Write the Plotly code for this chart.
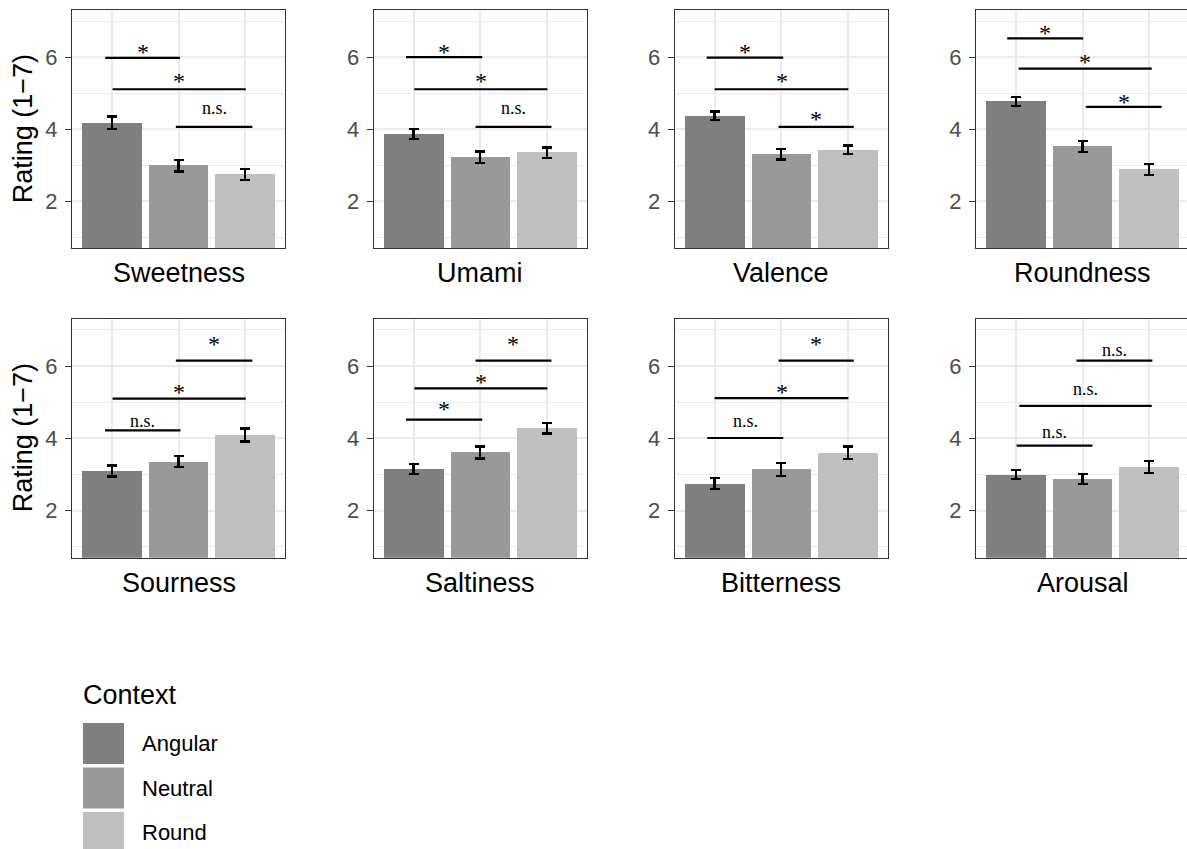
import plotly.graph_objects as go

# ---------------- data ----------------
attributes = ["Sweetness", "Umami", "Valence", "Roundness",
              "Sourness", "Saltiness", "Bitterness", "Arousal"]
contexts = ["Angular", "Neutral", "Round"]
context_colors = ["#7f7f7f", "#999999", "#bfbfbf"]

angular_mean = [4.18, 3.87, 4.37, 4.77, 3.10, 3.15, 2.75, 3.00]
neutral_mean = [2.99, 3.22, 3.31, 3.52, 3.36, 3.61, 3.14, 2.87]
round_mean = [2.75, 3.35, 3.43, 2.88, 4.09, 4.28, 3.60, 3.21]
angular_se = [0.17, 0.14, 0.12, 0.13, 0.15, 0.14, 0.15, 0.12]
neutral_se = [0.16, 0.16, 0.15, 0.15, 0.16, 0.165, 0.18, 0.14]
round_se = [0.15, 0.15, 0.12, 0.15, 0.18, 0.15, 0.17, 0.17]

y_ticks = [2, 4, 6]
y_minor = [1, 3, 5, 7]

# significance brackets: panel index, x start, x end, y, label, label y
bracket_panel = [0, 0, 0, 1, 1, 1, 2, 2, 2, 3, 3, 3,
                 4, 4, 4, 5, 5, 5, 6, 6, 6, 7, 7, 7]
bracket_x0 = [0.90, 1.01, 1.96, 0.885, 1.01, 1.93, 0.88, 1.00, 1.96, 0.87, 1.04, 2.05,
              0.896, 1.01, 1.96, 0.885, 1.01, 1.93, 0.89, 1.00, 1.96, 1.01, 1.05, 1.91]
bracket_x1 = [2.02, 3.01, 3.11, 2.03, 3.01, 3.07, 2.03, 3.01, 3.09, 2.01, 3.04, 3.19,
              2.03, 3.01, 3.11, 2.03, 3.01, 3.07, 2.03, 3.01, 3.09, 2.15, 3.04, 3.05]
bracket_y = [5.98, 5.11, 4.07, 6.00, 5.11, 4.07, 5.99, 5.11, 4.07, 6.52, 5.68, 4.62,
             4.22, 5.10, 6.15, 4.52, 5.38, 6.15, 4.01, 5.11, 6.15, 3.80, 4.90, 6.15]
bracket_label = ["*", "*", "n.s.", "*", "*", "n.s.", "*", "*", "*", "*", "*", "*",
                 "n.s.", "*", "*", "*", "*", "*", "n.s.", "*", "*", "n.s.", "n.s.", "n.s."]
bracket_label_y = [6.29, 5.48, 4.55, 6.29, 5.48, 4.55, 6.29, 5.48, 4.42, 6.80, 6.01, 4.90,
                   4.44, 5.41, 6.74, 4.94, 5.69, 6.75, 4.45, 5.41, 6.75, 4.16, 5.34, 6.42]

# ---------------- layout geometry (pixels) ----------------
W, H = 1187, 849
col_left = [72, 373.7, 674.7, 976]
panel_w = 213
row_top = [10.3, 319]
row_bot = [248.3, 557.7]
x_range = [0.4, 3.6]
y_range = [0.7, 7.3]
px_per_x = panel_w / (x_range[1] - x_range[0])

SANS = "Liberation Sans, Arial, Helvetica, sans-serif"
SERIF = "Liberation Serif, Times New Roman, serif"

fig = go.Figure()
means = [angular_mean, neutral_mean, round_mean]
ses = [angular_se, neutral_se, round_se]

annotations = []
shapes = []
for i, attr in enumerate(attributes):
    r, c = divmod(i, 4)
    n = i + 1
    xa = "x" if n == 1 else f"x{n}"
    ya = "y" if n == 1 else f"y{n}"
    left = col_left[c]
    right = min(left + panel_w, W)
    xr = [x_range[0], x_range[0] + (right - left) / px_per_x]

    fig.add_trace(go.Bar(
        x=[1, 2, 3],
        y=[m[i] for m in means],
        width=0.9,
        marker=dict(color=context_colors, line=dict(width=0)),
        error_y=dict(type="data", array=[s[i] for s in ses], color="black",
                     thickness=2.4, width=5),
        xaxis=xa, yaxis=ya, showlegend=False, hoverinfo="skip",
    ))

    for k in range(len(bracket_panel)):
        if bracket_panel[k] != i:
            continue
        fig.add_trace(go.Scatter(
            x=[bracket_x0[k], bracket_x1[k]], y=[bracket_y[k], bracket_y[k]],
            mode="lines", line=dict(color="black", width=2.2),
            xaxis=xa, yaxis=ya, showlegend=False, hoverinfo="skip",
        ))
        is_star = bracket_label[k] == "*"
        annotations.append(dict(
            x=(bracket_x0[k] + bracket_x1[k]) / 2, y=bracket_label_y[k],
            xref=xa, yref=ya, text=bracket_label[k], showarrow=False,
            xanchor="center", yanchor="middle",
            yshift=-5 if is_star else 1,
            font=dict(family=SERIF, size=24 if is_star else 18, color="black"),
        ))

    xkey = "xaxis" if n == 1 else f"xaxis{n}"
    ykey = "yaxis" if n == 1 else f"yaxis{n}"
    fig.update_layout(**{
        xkey: dict(
            domain=[left / W, right / W], range=xr, anchor=ya,
            tickvals=[1, 2, 3], showticklabels=False, ticks="",
            showgrid=True, gridcolor="#ebebeb", gridwidth=1.5,
            showline=True, linecolor="#333333", linewidth=1.3, mirror=True,
            zeroline=False, fixedrange=True,
        ),
        ykey: dict(
            domain=[1 - row_bot[r] / H, 1 - row_top[r] / H], range=y_range, anchor=xa,
            tickvals=y_ticks, ticks="outside", ticklen=6, tickwidth=1.3,
            tickcolor="#333333", ticklabelstandoff=3,
            tickfont=dict(family=SANS, size=22, color="#4d4d4d"),
            showgrid=True, gridcolor="#ebebeb", gridwidth=1.5,
            minor=dict(tickvals=y_minor, showgrid=True, gridcolor="#ebebeb",
                       gridwidth=0.8, ticks=""),
            showline=True, linecolor="#333333", linewidth=1.3,
            mirror=(c < 3), zeroline=False, fixedrange=True,
        ),
    })

    # facet label below panel
    annotations.append(dict(
        x=(left + panel_w / 2) / W, y=1 - (row_bot[r] + 25) / H,
        xref="paper", yref="paper", text=attr, showarrow=False,
        xanchor="center", yanchor="middle",
        font=dict(family=SANS, size=27, color="black"),
    ))

# y-axis titles
for r in range(2):
    annotations.append(dict(
        x=23 / W, y=1 - (row_top[r] + row_bot[r]) / 2 / H,
        xref="paper", yref="paper", text="Rating (1\u22127)", showarrow=False,
        textangle=-90, xanchor="center", yanchor="middle",
        font=dict(family=SANS, size=27, color="black"),
    ))

# legend (drawn manually)
annotations.append(dict(
    x=81 / W, y=1 - 695 / H, xref="paper", yref="paper", text="Context",
    showarrow=False, xanchor="left", yanchor="middle",
    font=dict(family=SANS, size=27, color="black"),
))
sw_top = 723
sw_step = 44.5
sw_size = 41
for j, (ctx, col) in enumerate(zip(contexts, context_colors)):
    t = sw_top + j * sw_step
    shapes.append(dict(
        type="rect", xref="paper", yref="paper",
        x0=83 / W, x1=(83 + sw_size) / W,
        y0=1 - (t + sw_size) / H, y1=1 - t / H,
        fillcolor=col, line=dict(width=0),
    ))
    annotations.append(dict(
        x=140 / W, y=1 - (t + sw_size / 2) / H, xref="paper", yref="paper",
        text=ctx, showarrow=False, xanchor="left", yanchor="middle",
        font=dict(family=SANS, size=22, color="black"),
    ))

fig.update_layout(
    width=W, height=H,
    margin=dict(l=0, r=0, t=0, b=0),
    paper_bgcolor="white", plot_bgcolor="white",
    bargap=0, showlegend=False,
    annotations=annotations, shapes=shapes,
    font=dict(family=SANS),
)

fig.write_html(
    "out.html",
    config={"displayModeBar": False},
    post_script="document.body.style.margin='0';document.body.style.overflow='hidden';",
)
